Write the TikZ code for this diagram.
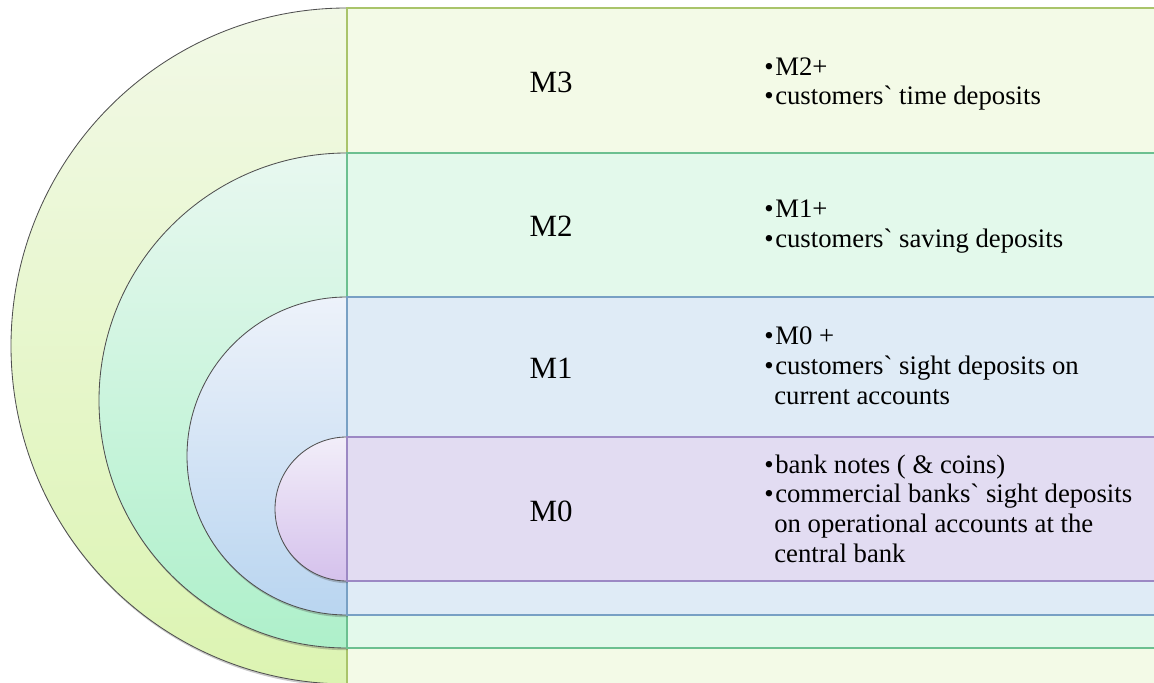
\documentclass[tikz,border=0pt]{standalone}
\usepackage{fontspec}
\setmainfont{Liberation Serif}
\usetikzlibrary{shadows}
\definecolor{mthreefill}{HTML}{F3FAE7}
\definecolor{mthreeline}{HTML}{A9C46A}
\definecolor{mthreetop}{HTML}{F2F9E7}
\definecolor{mthreebot}{HTML}{DCF4B2}
\definecolor{mtwofill}{HTML}{E3F9EB}
\definecolor{mtwoline}{HTML}{6CC090}
\definecolor{mtwotop}{HTML}{E8F8F0}
\definecolor{mtwobot}{HTML}{AEF0CA}
\definecolor{monefill}{HTML}{DFEBF6}
\definecolor{moneline}{HTML}{78A0C4}
\definecolor{monetop}{HTML}{EDF2FA}
\definecolor{monebot}{HTML}{B9D5F0}
\definecolor{mzerofill}{HTML}{E2DCF2}
\definecolor{mzeroline}{HTML}{9C88C4}
\definecolor{mzerotop}{HTML}{F2EEF9}
\definecolor{mzerobot}{HTML}{D5C1EC}
\definecolor{rimgray}{HTML}{505050}
\newcommand{\bitem}[1]{\makebox[0.275cm][l]{\textbullet}#1}
\newcommand{\bcont}[1]{\hspace*{0.25cm}#1}
\newcommand{\gravemark}{\textasciigrave}

\begin{document}
\begin{tikzpicture}[
  x=0.025cm,
  y=0.025cm,
  every node/.style={inner sep=0pt, black},
  rim/.style={draw=rimgray, line width=0.6pt,
              drop shadow={shadow xshift=0.6pt, shadow yshift=-1.6pt,
                           opacity=0.3, fill=black!70}},
  band/.style={line width=1.1pt},
  level/.style={font=\fontsize{22}{26}\selectfont},
  items/.style={anchor=west, align=left,
                font=\fontsize{19}{21.26}\selectfont}
]
  % ---- page frame ----
  \useasboundingbox (0,0) rectangle (1154,682);
  \clip (0,0) rectangle (1154,682);

  % ---- M3: outer half disc and its band ----
  \path[rim, top color=mthreetop, bottom color=mthreebot]
    (347,674) arc[start angle=90, end angle=270, x radius=336, y radius=338]
    -- cycle;
  \draw[band, draw=mthreeline, fill=mthreefill] (347,-20) rectangle (1165,674);

  % ---- M2 ----
  \path[rim, top color=mtwotop, bottom color=mtwobot]
    (347,529) arc[start angle=90, end angle=270, x radius=248, y radius=247.5]
    -- cycle;
  \draw[band, draw=mtwoline, fill=mtwofill] (347,34) rectangle (1165,529);

  % ---- M1 ----
  \path[rim, top color=monetop, bottom color=monebot]
    (347,385) arc[start angle=90, end angle=270, x radius=160, y radius=159]
    -- cycle;
  \draw[band, draw=moneline, fill=monefill] (347,67) rectangle (1165,385);

  % ---- M0: inner half disc ----
  \path[rim, top color=mzerotop, bottom color=mzerobot]
    (347,245) arc[start angle=90, end angle=270, x radius=72, y radius=72]
    -- cycle;
  \draw[band, draw=mzeroline, fill=mzerofill] (347,101) rectangle (1165,245);

  % ---- level names ----
  \node[level] (mthree) at (551,599.5) {M3};
  \node[level] (mtwo)   at (551,456) {M2};
  \node[level] (mone)   at (551,314) {M1};
  \node[level] (mzero)  at (551,170.5) {M0};

  % ---- what each level holds ----
  \node[items] (mthreetext) at (764,598)
    {\bitem{M2+}\\\bitem{customers\gravemark{} time deposits}};
  \node[items] (mtwotext) at (764,455.5)
    {\bitem{M1+}\\\bitem{customers\gravemark{} saving deposits}};
  \node[items] (monetext) at (764,316.5)
    {\bitem{M0 +}\\\bitem{customers\gravemark{} sight deposits on}\\
     \bcont{current accounts}};
  \node[items] (mzerotext) at (764,173.2)
    {\bitem{bank notes ( \& coins)}\\
     \bitem{commercial banks\gravemark{} sight deposits}\\
     \bcont{on operational accounts at the}\\
     \bcont{central bank}};
\end{tikzpicture}
\end{document}
